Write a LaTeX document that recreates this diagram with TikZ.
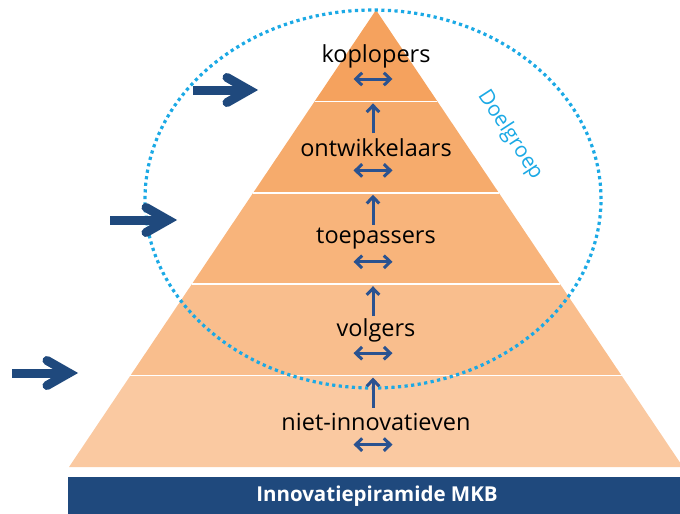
\documentclass[tikz,border=0pt]{standalone}
\usepackage{fontspec}
\setmainfont{Open Sans}
\usepackage{tikz}
\usetikzlibrary{calc,arrows.meta}

\definecolor{layerOne}{HTML}{F5A25E}
\definecolor{layerTwo}{HTML}{F6AB6C}
\definecolor{layerThree}{HTML}{F8B47B}
\definecolor{layerFour}{HTML}{F9BE8D}
\definecolor{layerFive}{HTML}{FAC9A1}
\definecolor{barBlue}{HTML}{1F497D}
\definecolor{arrowBlue}{HTML}{2A5290}
\definecolor{ringBlue}{HTML}{1BA9E5}

\newcommand{\layerCount}{5}
\newcommand{\layerStep}{91.4}
\newcommand{\labelDrop}{46}
\newcommand{\arrowSpan}{19.5}
\newcommand{\armBack}{22}
\newcommand{\armSpread}{12.5}
\newcommand{\layerNames}{1/kop/koplopers, 2/ontw/ontwikkelaars, 3/toep/toepassers, 4/volg/volgers, 5/niet/niet-innovatieven}
\newcommand{\layerColors}{1/layerOne, 2/layerTwo, 3/layerThree, 4/layerFour, 5/layerFive}

\tikzset{
	layerlabel/.style={font=\fontsize{23.5pt}{26pt}\selectfont, text=black, inner sep=0pt},
	smallarrow/.style={draw=arrowBlue, line width=3pt, -{Straight Barb[length=6.5pt,width=12.5pt]}},
	dblarrow/.style={draw=arrowBlue, line width=3pt, {Straight Barb[length=6.5pt,width=12.5pt]}-{Straight Barb[length=6.5pt,width=12.5pt]}},
	bigarrow/.style={draw=barBlue, line width=9pt},
	goalring/.style={draw=ringBlue, line width=3.2pt, dash pattern=on 3.2pt off 3.4pt},
	goaltext/.style={text=ringBlue, font=\fontsize{21pt}{24pt}\selectfont, rotate=-57, inner sep=0pt},
	layerline/.style={draw=white, line width=1.5pt},
	bartitle/.style={text=white, font=\fontsize{20.5pt}{23pt}\selectfont\bfseries, inner sep=0pt}
}

\newcommand{\bigArrow}[2]{%
	\draw[bigarrow] (#1) -- (#2);
	\draw[bigarrow, line cap=round, line join=miter] ($(#2)+(-\armBack,-\armSpread)$) -- (#2) -- ($(#2)+(-\armBack,\armSpread)$);
}

\begin{document}
\begin{tikzpicture}[x=1pt, y=-1pt]
	\useasboundingbox (0,0) rectangle (680,514);

	\coordinate (apex) at (376,10);
	\coordinate (baseL) at (69,467);
	\coordinate (baseR) at (683,467);

	\foreach \n/\col in \layerColors
	{
		\pgfmathsetmacro{\tTop}{(\n-1)/\layerCount}
		\pgfmathsetmacro{\tBot}{\n/\layerCount}
		\fill[\col] ($(apex)!\tTop!(baseL)$) -- ($(apex)!\tBot!(baseL)$) -- ($(apex)!\tBot!(baseR)$) -- ($(apex)!\tTop!(baseR)$) -- cycle;
	}
	\foreach \n in {1,...,4}
	{
		\draw[layerline] ($(apex)!\n/\layerCount!(baseL)$) -- ($(apex)!\n/\layerCount!(baseR)$);
	}

	\draw[goalring] (373,199) ellipse [x radius=228pt, y radius=189pt];
	\node[goaltext] (goal) at (510,135) {Doelgroep};

	\foreach \n/\name/\txt in \layerNames
	{
		\pgfmathsetmacro{\layerTop}{10+(\n-1)*\layerStep}
		\node[layerlabel] (\name) at (376,\layerTop+\labelDrop) {\txt};
		\coordinate (\name-w) at (373-\arrowSpan,\layerTop+\labelDrop+23);
		\coordinate (\name-e) at (373+\arrowSpan,\layerTop+\labelDrop+23);
		\draw[dblarrow] (\name-w) -- (\name-e);
		\ifnum\n>1
			\coordinate (\name-foot) at (373,\layerTop+32);
			\coordinate (\name-up) at (373,\layerTop+2);
			\draw[smallarrow] (\name-foot) -- (\name-up);
		\fi
	}

	\coordinate (tailA) at (193,90);
	\coordinate (tipA) at (249,90);
	\coordinate (tailB) at (110,220);
	\coordinate (tipB) at (168,220);
	\coordinate (tailC) at (12,373);
	\coordinate (tipC) at (69,373);
	\bigArrow{tailA}{tipA}
	\bigArrow{tailB}{tipB}
	\bigArrow{tailC}{tipC}

	\coordinate (barNW) at (68,477);
	\coordinate (barSE) at (680,514);
	\fill[barBlue] (barNW) rectangle (barSE);
	\node[bartitle] (title) at (377,496) {Innovatiepiramide MKB};
\end{tikzpicture}
\end{document}
